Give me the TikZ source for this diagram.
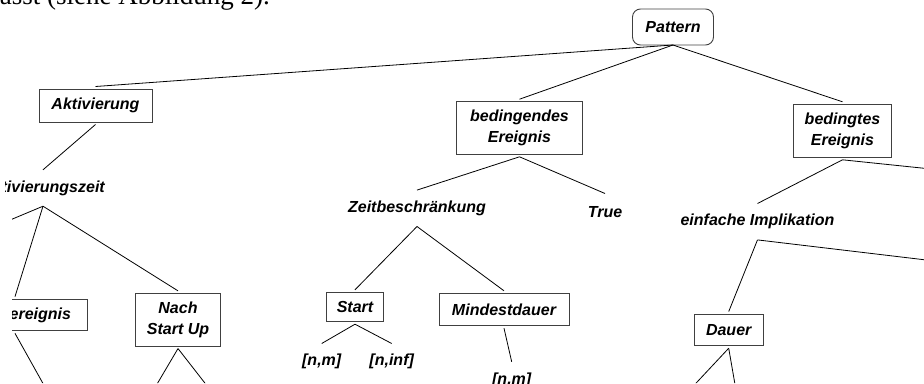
\documentclass[tikz,border=0pt]{standalone}
\usepackage{fontspec}
\setmainfont{Liberation Sans}
\newfontfamily\bodyserif{Liberation Serif}
\def \boxcolor {black!75}
\def \linecolor {black}
\tikzset{
  box/.style={draw=\boxcolor, line width=0.9pt, inner sep=0pt, outer sep=2.5pt, align=center},
  lbl/.style={inner sep=0pt, minimum height=36pt},
  conn/.style={draw=\linecolor, line width=0.8pt}
}

\begin{document}
\begin{tikzpicture}[x=1pt, y=-1pt, font=\fontsize{16}{21}\selectfont\bfseries\itshape]
\useasboundingbox (0,0) rectangle (924,383);
\clip (0,0) -- (924,0) -- (924,383) -- (12,383) -- (12,200) -- (5,200) -- (5,150) -- (0,150) -- cycle;
% Text of the page above the figure
\node[font=\bodyserif\mdseries\upshape\fontsize{27}{32}\selectfont, anchor=base east, inner sep=0pt] (cap) at (270,4) {asst (siehe Abbildung 2).};
% Root of the tree
\node[box, rounded corners=8pt, minimum width=81pt, minimum height=36pt, outer sep=0pt] (pat) at (673,27) {Pattern};
% Left branch
\node[box, minimum width=113pt, minimum height=33pt] (akt) at (95.5,105.5) {Aktivierung};
\node[lbl] (azeit) at (43,188) {Aktivierungszeit};
\node[box, text width=112pt, align=right, inner xsep=16pt, minimum height=31.7pt] (ereig) at (15,315) {ereignis};
\node[box, minimum width=85.7pt, minimum height=52.7pt] (nach) at (178,319.7) {Nach\\Start Up};
% Middle branch
\node[box, minimum width=125.6pt, minimum height=52.6pt] (bdg) at (519.5,128) {bedingendes\\Ereignis};
\node[lbl] (zeit) at (417,208.3) {Zeitbeschränkung};
\node[lbl] (true) at (605,211.7) {True};
\node[box, minimum width=56.6pt, minimum height=29.4pt] (start) at (355,307) {Start};
\node[box, minimum width=130pt, minimum height=32.4pt] (mind) at (504,309.5) {Mindestdauer};
\node[lbl] (nmA) at (321.7,361.7) {[n,m]};
\node[lbl] (ninf) at (391.7,361.7) {[n,inf]};
\node[lbl] (nmB) at (511.7,380) {[n,m]};
% Right branch
\node[box, minimum width=98.4pt, minimum height=53pt] (bdt) at (842.5,130.8) {bedingtes\\Ereignis};
\node[lbl] (impl) at (757.5,221.7) {einfache Implikation};
\node[box, minimum width=69.3pt, minimum height=31.7pt] (dauer) at (728.7,329.9) {Dauer};
% Free ends of the lines that leave the picture
\coordinate (offA) at (-40,241);
\coordinate (offB) at (50,396);
\coordinate (offC) at (150,396);
\coordinate (offD) at (215,396);
\coordinate (offE) at (960,172);
\coordinate (offF) at (960,264);
\coordinate (offG) at (684,396);
\coordinate (offH) at (737,396);
% Draw the connectors
\foreach \a/\b in {pat/akt, pat/bdg, pat/bdt, akt/azeit, azeit/ereig, azeit/nach, bdg/zeit, bdg/true, zeit/start, zeit/mind, start/nmA, start/ninf, mind/nmB, bdt/impl, impl/dauer}
  \draw[conn] (\a.south) -- (\b.north);
\foreach \a/\b in {azeit/offA, ereig/offB, nach/offC, nach/offD, bdt/offE, impl/offF, dauer/offG, dauer/offH}
  \draw[conn] (\a.south) -- (\b);
\end{tikzpicture}
\end{document}
